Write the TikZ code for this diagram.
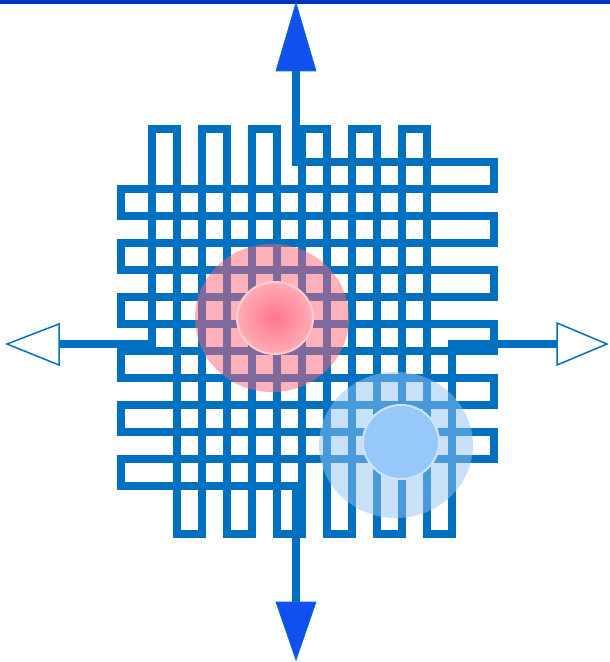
\documentclass[tikz,border=0pt]{standalone}
\definecolor{wire}{RGB}{0,112,192}
\definecolor{topline}{RGB}{0,51,192}
\definecolor{tipfill}{RGB}{16,80,240}
\definecolor{pinkhalo}{RGB}{255,100,120}
\definecolor{pinkcore}{RGB}{255,118,138}
\definecolor{pinkedge}{RGB}{255,172,182}
\definecolor{pinkrim}{RGB}{255,205,212}
\definecolor{bluehalo}{RGB}{147,196,245}
\definecolor{bluecore}{RGB}{150,200,250}
\definecolor{bluerim}{RGB}{205,228,250}
\begin{document}
\begin{tikzpicture}[x=1bp,y=-1bp,
  wirestyle/.style={draw=wire,line width=8bp,line join=miter},
  solidtip/.style={fill=tipfill,draw=wire,line width=0.8bp,line join=miter},
  opentip/.style={fill=white,draw=wire,line width=1.5bp,line join=miter},
  halo/.style={fill opacity=0.5}]
\fill[white] (0,0) rectangle (610,662);
\useasboundingbox (0,0) rectangle (610,662);
\fill[topline] (0,0) rectangle (610,4);
% terminals
\coordinate (Ntop) at (296,71);
\coordinate (Nbot) at (296,602);
\coordinate (Nleft) at (59,344);
\coordinate (Nright) at (557,344);
% row meander (top terminal to bottom terminal)
\draw[wirestyle] (Ntop) -- (296,162)
  -- (494,162) -- (494,189) -- (121,189) -- (121,216)
  -- (494,216) -- (494,243) -- (121,243) -- (121,270)
  -- (494,270) -- (494,297) -- (121,297) -- (121,324)
  -- (494,324) -- (494,351) -- (121,351) -- (121,378)
  -- (494,378) -- (494,405) -- (121,405) -- (121,432)
  -- (494,432) -- (494,459) -- (121,459) -- (121,486)
  -- (296,486) -- (Nbot);
% column meander (left terminal to right terminal)
\draw[wirestyle] (Nleft) -- (152,344) -- (152,129)
  -- (177,129) -- (177,534) -- (202,534) -- (202,129)
  -- (227,129) -- (227,534) -- (252,534) -- (252,129)
  -- (277,129) -- (277,534) -- (302,534) -- (302,129)
  -- (327,129) -- (327,534) -- (352,534) -- (352,129)
  -- (377,129) -- (377,534) -- (402,534) -- (402,129)
  -- (427,129) -- (427,534) -- (452,534) -- (452,344) -- (Nright);
% red spot
\fill[pinkhalo,halo] (272,318) ellipse [x radius=77bp, y radius=74bp];
\shade[inner color=pinkcore, outer color=pinkedge] (275,318) ellipse [x radius=38bp, y radius=36bp];
\draw[pinkrim,line width=2bp] (275,318) ellipse [x radius=38bp, y radius=36bp];
% blue spot
\fill[bluehalo,halo] (396,445) ellipse [x radius=77bp, y radius=73bp];
\fill[bluecore] (401,442) ellipse [x radius=38bp, y radius=37bp];
\draw[bluerim,line width=2bp] (401,442) ellipse [x radius=38bp, y radius=37bp];
% arrow heads
\draw[solidtip] ([xshift=-20bp]Ntop) -- (296,3) -- ([xshift=20bp]Ntop) -- cycle;
\draw[solidtip] ([xshift=-20bp]Nbot) -- (296,660) -- ([xshift=20bp]Nbot) -- cycle;
\draw[opentip] ([yshift=20bp]Nleft) -- (7,344) -- ([yshift=-21bp]Nleft) -- cycle;
\draw[opentip] ([yshift=21bp]Nright) -- (607,344) -- ([yshift=-21bp]Nright) -- cycle;
\end{tikzpicture}
\end{document}
